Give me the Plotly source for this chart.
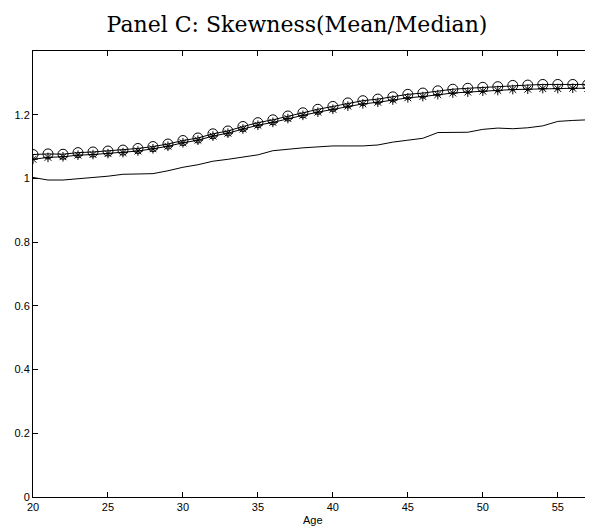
import plotly.graph_objects as go

ages = list(range(20, 59))

circle_vals = [1.075, 1.077, 1.076, 1.081, 1.083, 1.086, 1.089, 1.094, 1.100, 1.108,
               1.119, 1.127, 1.140, 1.149, 1.163, 1.175, 1.184, 1.196, 1.206, 1.217,
               1.226, 1.237, 1.244, 1.249, 1.256, 1.264, 1.268, 1.275, 1.280, 1.283,
               1.286, 1.288, 1.292, 1.293, 1.295, 1.295, 1.295, 1.295, 1.295]

star_vals = [1.060, 1.066, 1.068, 1.073, 1.075, 1.078, 1.081, 1.086, 1.093, 1.101,
             1.112, 1.120, 1.133, 1.142, 1.155, 1.167, 1.176, 1.188, 1.198, 1.208,
             1.217, 1.227, 1.234, 1.239, 1.246, 1.253, 1.257, 1.263, 1.268, 1.271,
             1.274, 1.276, 1.279, 1.280, 1.282, 1.282, 1.283, 1.283, 1.283]

data_vals = [1.003, 0.995, 0.995, 0.998, 1.003, 1.007, 1.013, 1.014, 1.015, 1.024,
             1.035, 1.043, 1.054, 1.060, 1.066, 1.074, 1.087, 1.092, 1.096, 1.099,
             1.102, 1.102, 1.102, 1.105, 1.114, 1.120, 1.126, 1.144, 1.145, 1.145,
             1.154, 1.158, 1.156, 1.159, 1.165, 1.179, 1.182, 1.184, 1.195]

x_ticks = [20, 25, 30, 35, 40, 45, 50, 55]
y_ticks = [0, 0.2, 0.4, 0.6, 0.8, 1, 1.2]
y_tick_labels = ["0", "0.2", "0.4", "0.6", "0.8", "1", "1.2"]

fig = go.Figure()
fig.add_trace(go.Scatter(x=ages, y=data_vals, mode="lines",
                         line=dict(color="black", width=1), showlegend=False))
fig.add_trace(go.Scatter(x=ages, y=star_vals, mode="lines+markers",
                         line=dict(color="black", width=1),
                         marker=dict(symbol="asterisk-open", size=8,
                                     line=dict(color="black", width=1)),
                         showlegend=False))
fig.add_trace(go.Scatter(x=ages, y=circle_vals, mode="lines+markers",
                         line=dict(color="black", width=1),
                         marker=dict(symbol="circle-open", size=10, color="black",
                                     line=dict(color="black", width=1)),
                         showlegend=False))

axis_font = dict(family="Liberation Sans, Arial, sans-serif", size=11, color="black")

# the page body has an 8px default margin, so the figure is sized to fill the rest
W, H = 585, 522
fig.update_layout(
    width=W, height=H,
    margin=dict(l=25, r=0, t=43, b=33),
    paper_bgcolor="white", plot_bgcolor="white",
    title=dict(text="Panel C: Skewness(Mean/Median)", x=289 / W, xref="container",
               xanchor="center", y=1 - 16 / H, yref="container", yanchor="middle",
               font=dict(family="DejaVu Serif, serif", size=22, color="black")),
    xaxis=dict(range=[20, 57.35], tickvals=x_ticks, ticktext=[str(t) for t in x_ticks],
               ticks="inside", ticklen=5, tickcolor="black", showline=True,
               linecolor="black", linewidth=1, mirror="ticks", showgrid=False,
               zeroline=False, tickfont=axis_font, automargin=False),
    yaxis=dict(range=[0, 1.4], tickvals=y_ticks, ticktext=y_tick_labels,
               ticks="inside", ticklen=5, tickcolor="black", showline=True,
               linecolor="black", linewidth=1, mirror=False, showgrid=False,
               zeroline=False, tickfont=axis_font, automargin=False),
    annotations=[dict(text="Age", x=0.5, xref="paper", y=-23 / 446, yref="paper",
                      xanchor="center", yanchor="middle", showarrow=False,
                      font=axis_font)],
)

fig.write_html("out.html")
